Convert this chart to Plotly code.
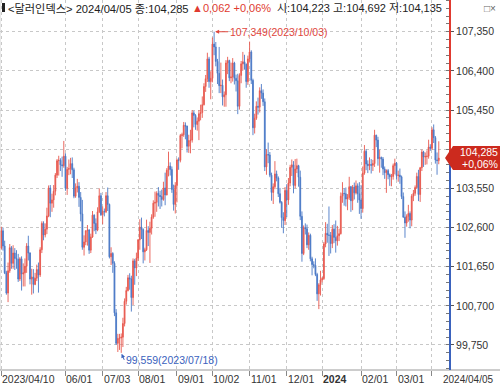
import pandas as pd
import plotly.graph_objects as go

# ---------------- data ----------------
dates = [d.strftime("%Y-%m-%d") for d in pd.bdate_range("2023-04-10", "2024-04-05")]

open_ = [
    102.10, 102.52, 102.15, 101.50, 101.01, 101.55, 102.11, 101.73, 101.98, 101.85, 101.83, 101.35, 101.84, 101.47, 101.50,
    101.66, 102.15, 101.98, 101.35, 101.40, 101.22, 101.37, 101.58, 101.45, 102.06, 102.70, 102.42, 102.56, 102.88, 103.56, 103.19, 103.27, 103.48, 103.87, 104.22, 104.23, 104.12, 104.10,
    104.33, 103.55, 104.01, 104.03, 104.15, 104.00, 103.36, 103.56, 103.60, 103.33, 102.93, 102.12, 102.25, 102.52, 102.54, 102.05, 102.37, 102.90, 102.70, 102.54, 102.98, 103.37,
    102.91, 102.99, 102.98, 103.37, 103.16, 101.89, 101.97, 101.73, 100.53, 99.79, 99.91, 99.92, 99.94, 100.27, 100.81, 101.07, 101.38, 101.35, 100.90, 101.79, 101.62,
    101.86, 102.30, 102.61, 102.55, 102.01, 102.06, 102.53, 102.48, 102.58, 102.85, 103.19, 103.21, 103.43, 103.38, 103.35, 103.28, 103.56, 103.39, 103.99, 104.09, 104.01, 103.52, 103.16,
    103.62, 104.24, 104.23, 104.83, 104.85, 105.08, 105.06, 104.57, 104.71, 104.72, 105.38, 105.32, 105.10, 105.18, 105.36, 105.39, 105.58, 106.02, 106.21, 106.69, 106.14,
    106.22, 107.05, 106.98, 106.63, 106.34, 106.04, 106.05, 105.77, 105.82, 106.59, 106.65, 106.23, 106.25, 106.59, 106.22, 106.16, 105.54, 106.29, 106.57, 106.62, 106.56, 106.14,
    106.69, 106.86, 106.17, 105.02, 105.25, 105.54, 105.52, 105.92, 105.86, 105.65, 104.07, 104.37, 104.36, 103.87, 103.45, 103.59, 103.90, 103.80, 103.42, 103.21, 102.84, 102.77,
    103.50, 103.27, 103.68, 104.06, 104.12, 103.62, 104.02, 104.10, 103.82, 102.87, 101.97, 102.60, 102.57, 102.18, 102.41, 101.84, 101.70, 101.68, 101.46, 100.99, 101.21,
    101.33, 101.36, 102.20, 102.46, 102.42, 102.41, 102.21, 102.56, 102.36, 102.28, 102.40, 102.45, 103.36, 103.43, 103.42, 103.29, 103.33, 103.59, 103.25, 103.58, 103.44, 103.61, 103.42,
    103.27, 103.06, 103.92, 104.45, 104.14, 104.10, 104.13, 104.11, 104.15, 104.84, 104.72, 104.27, 104.30, 104.26, 104.02, 103.93, 103.98, 103.88, 103.83, 103.84, 104.10,
    104.16, 103.86, 103.87, 103.83, 103.35, 102.85, 102.71, 102.87, 102.94, 102.78, 103.36, 103.43, 103.57, 103.84, 103.40, 104.05, 104.43, 104.31, 104.32, 104.33, 104.55,
    104.52, 104.97, 104.78, 104.24, 104.223,
]

high = [
    102.62, 102.60, 102.28, 101.55, 101.75, 102.20, 102.15, 102.17, 102.10, 102.05, 101.96, 101.88, 101.90, 101.73, 101.85,
    102.22, 102.40, 102.00, 101.60, 101.59, 101.50, 101.70, 101.75, 102.12, 102.75, 102.75, 102.70, 103.08, 103.62, 103.63, 103.42, 103.63, 103.92, 104.26, 104.34, 104.28, 104.32, 104.70,
    104.40, 104.07, 104.25, 104.29, 104.30, 104.05, 103.67, 103.78, 103.70, 103.46, 103.27, 102.41, 102.53, 102.66, 102.56, 102.45, 103.00, 102.92, 102.82, 103.09, 103.55, 103.44,
    103.11, 103.06, 103.46, 103.57, 103.18, 102.12, 102.00, 101.78, 100.62, 100.02, 100.02, 100.03, 100.41, 100.88, 101.16, 101.45, 101.49, 101.43, 101.85, 101.84, 101.99,
    102.32, 102.80, 102.84, 102.58, 102.11, 102.79, 102.63, 102.74, 102.92, 103.26, 103.47, 103.48, 103.58, 103.49, 103.52, 103.71, 103.93, 104.04, 104.44, 104.18, 104.08, 103.64, 103.70,
    104.27, 104.30, 104.87, 104.90, 105.16, 105.15, 105.07, 104.85, 104.97, 105.45, 105.43, 105.35, 105.27, 105.45, 105.58, 105.78, 106.10, 106.30, 106.84, 106.74, 106.39,
    107.21, 107.349, 107.10, 106.69, 106.98, 106.60, 106.19, 105.90, 106.66, 106.74, 106.67, 106.60, 106.71, 106.62, 106.31, 106.33, 106.34, 106.64, 106.86, 106.79, 106.58, 106.77,
    107.11, 106.90, 106.21, 105.36, 105.66, 105.75, 106.00, 106.08, 105.95, 105.73, 104.50, 104.66, 104.43, 103.93, 103.67, 104.21, 103.98, 103.84, 103.56, 103.24, 102.97, 103.58,
    103.65, 103.80, 104.12, 104.25, 104.21, 104.26, 104.27, 104.12, 103.98, 102.99, 102.65, 102.70, 102.67, 102.48, 102.45, 101.89, 101.78, 101.85, 101.50, 101.25, 101.55,
    101.40, 102.25, 102.73, 102.69, 103.11, 102.49, 102.66, 102.68, 102.77, 102.64, 102.57, 103.45, 103.70, 103.55, 103.57, 103.41, 103.83, 103.61, 103.63, 103.69, 103.74, 103.67, 103.70,
    103.63, 104.08, 104.60, 104.50, 104.23, 104.30, 104.26, 104.24, 104.97, 104.85, 104.80, 104.49, 104.32, 104.31, 104.08, 104.01, 104.02, 103.91, 103.90, 104.15, 104.27,
    104.19, 103.98, 104.03, 103.86, 103.45, 102.99, 102.92, 103.15, 102.99, 103.41, 103.51, 103.62, 103.93, 104.00, 104.07, 104.49, 104.46, 104.42, 104.47, 104.73, 104.62,
    105.03, 105.10, 104.82, 104.42, 104.692,
]

low = [
    102.06, 102.04, 101.47, 100.97, 100.79, 101.50, 101.60, 101.60, 101.57, 101.60, 101.28, 101.30, 101.07, 101.17, 101.17,
    101.50, 101.80, 101.22, 100.97, 101.00, 101.20, 101.30, 101.02, 101.40, 101.98, 102.29, 102.36, 102.44, 102.85, 102.85, 102.98, 103.08, 103.38, 103.80, 103.86, 103.97, 103.83, 104.05,
    103.49, 103.39, 103.87, 103.89, 103.80, 103.31, 103.32, 103.45, 103.10, 102.75, 102.06, 101.92, 102.17, 102.16, 101.96, 101.98, 102.35, 102.51, 102.44, 102.51, 102.95, 102.88,
    102.68, 102.87, 102.95, 103.00, 101.85, 101.69, 101.50, 100.45, 99.75, 99.58, 99.63, 99.559, 99.70, 100.20, 100.73, 101.05, 101.09, 100.56, 100.72, 101.21, 101.42,
    101.79, 102.06, 102.32, 101.73, 101.80, 102.03, 102.15, 101.74, 102.43, 102.81, 102.86, 102.98, 103.11, 103.05, 103.11, 103.25, 103.14, 103.38, 103.84, 103.86, 103.44, 103.01, 102.94,
    103.21, 104.00, 104.18, 104.52, 104.80, 104.74, 104.42, 104.41, 104.40, 104.66, 105.03, 104.97, 104.95, 104.72, 105.20, 105.26, 105.56, 105.89, 106.13, 105.99, 105.71,
    106.12, 106.78, 106.51, 106.08, 105.86, 105.86, 105.56, 105.53, 105.53, 106.32, 106.15, 106.10, 106.14, 106.07, 105.90, 105.35, 105.46, 106.10, 106.41, 106.43, 105.99, 106.06,
    106.62, 106.08, 104.84, 104.88, 105.21, 105.34, 105.39, 105.72, 105.55, 103.97, 103.88, 104.16, 103.82, 103.25, 103.17, 103.53, 103.72, 103.34, 103.18, 102.59, 102.46, 102.66,
    102.85, 103.15, 103.60, 103.85, 103.43, 103.55, 103.92, 103.59, 102.78, 101.77, 101.93, 102.43, 102.10, 102.06, 101.78, 101.44, 101.61, 101.42, 100.82, 100.62, 100.95,
    101.27, 101.33, 102.12, 102.23, 101.91, 101.97, 102.10, 102.22, 101.99, 102.16, 102.27, 102.43, 103.20, 103.13, 103.11, 103.02, 103.27, 102.98, 103.02, 103.28, 103.40, 103.20, 102.93,
    102.81, 102.96, 103.88, 103.99, 103.92, 103.99, 103.91, 103.97, 104.07, 104.55, 104.10, 103.93, 104.05, 103.87, 103.78, 103.44, 103.77, 103.61, 103.60, 103.76, 103.89,
    103.76, 103.71, 103.66, 103.29, 102.84, 102.35, 102.62, 102.74, 102.58, 102.63, 103.24, 103.37, 103.54, 103.24, 103.22, 103.97, 104.07, 104.12, 104.13, 104.27, 104.46,
    104.48, 104.65, 104.15, 103.88, 104.135,
]

close = [
    102.52, 102.15, 101.50, 101.01, 101.55, 102.11, 101.73, 101.98, 101.85, 101.83, 101.35, 101.84, 101.47, 101.50, 101.66,
    102.15, 101.98, 101.35, 101.40, 101.22, 101.37, 101.58, 101.45, 102.06, 102.70, 102.42, 102.56, 102.88, 103.56, 103.19, 103.27, 103.48, 103.87, 104.22, 104.23, 104.12, 104.10, 104.33,
    103.55, 104.01, 104.03, 104.15, 104.00, 103.36, 103.56, 103.60, 103.33, 102.93, 102.12, 102.25, 102.52, 102.54, 102.05, 102.37, 102.90, 102.70, 102.54, 102.98, 103.37, 102.91,
    102.99, 102.98, 103.37, 103.16, 101.89, 101.97, 101.73, 100.53, 99.79, 99.91, 99.92, 99.94, 100.27, 100.81, 101.07, 101.38, 101.35, 100.90, 101.79, 101.62, 101.86,
    102.30, 102.61, 102.55, 102.01, 102.06, 102.53, 102.48, 102.58, 102.85, 103.19, 103.21, 103.43, 103.38, 103.35, 103.28, 103.56, 103.39, 103.99, 104.09, 104.01, 103.52, 103.16, 103.62,
    104.24, 104.23, 104.83, 104.85, 105.08, 105.06, 104.57, 104.71, 104.72, 105.38, 105.32, 105.10, 105.18, 105.36, 105.39, 105.58, 106.02, 106.21, 106.69, 106.14, 106.22,
    107.05, 106.98, 106.63, 106.34, 106.04, 106.05, 105.77, 105.82, 106.59, 106.65, 106.23, 106.25, 106.59, 106.22, 106.16, 105.54, 106.29, 106.57, 106.62, 106.56, 106.14, 106.69,
    106.86, 106.17, 105.02, 105.25, 105.54, 105.52, 105.92, 105.86, 105.65, 104.07, 104.37, 104.36, 103.87, 103.45, 103.59, 103.90, 103.80, 103.42, 103.21, 102.84, 102.77, 103.50,
    103.27, 103.68, 104.06, 104.12, 103.62, 104.02, 104.10, 103.82, 102.87, 101.97, 102.60, 102.57, 102.18, 102.41, 101.84, 101.70, 101.68, 101.46, 100.99, 101.21, 101.33,
    101.36, 102.20, 102.46, 102.42, 102.41, 102.21, 102.56, 102.36, 102.28, 102.40, 102.45, 103.36, 103.43, 103.42, 103.29, 103.33, 103.59, 103.25, 103.58, 103.44, 103.61, 103.42, 103.27,
    103.06, 103.92, 104.45, 104.14, 104.10, 104.13, 104.11, 104.15, 104.84, 104.72, 104.27, 104.30, 104.26, 104.02, 103.93, 103.98, 103.88, 103.83, 103.84, 104.10, 104.16,
    103.86, 103.87, 103.83, 103.35, 102.85, 102.71, 102.87, 102.94, 102.78, 103.36, 103.43, 103.57, 103.84, 103.40, 104.05, 104.43, 104.31, 104.32, 104.33, 104.55, 104.52,
    104.97, 104.78, 104.24, 104.223, 104.285,
]

ytick_vals = [99.75, 100.70, 101.65, 102.60, 103.55, 104.50, 105.45, 106.40, 107.35]
ytick_text = ["99,750", "100,700", "101,650", "102,600", "103,550", "", "105,450", "106,400", "107,350"]

xtick_dates = ["2023-04-10", "2023-06-01", "2023-07-03", "2023-08-01", "2023-09-01", "2023-10-02",
               "2023-11-01", "2023-12-01", "2024-01-01", "2024-02-01", "2024-03-01", "2024-04-01"]
xtick_text = ["2023/04/10", "06/01", "07/03", "08/01", "09/01", "10/02",
              "11/01", "12/01", "<b>2024</b>", "02/01", "03/01", ""]

title_name = "<달러인덱스>"

assert len(dates) == len(open_) == len(high) == len(low) == len(close)

# ---------------- style ----------------
FONT = "Liberation Sans, Arial, Noto Sans CJK KR, sans-serif"
RED = "#e8584e"
BLUE = "#4a78c6"
TXT = "#333333"
GRID = "#c8c8c8"


def fmt(v, nd=3):
    return f"{v:.{nd}f}".replace(".", ",")


fig = go.Figure(go.Candlestick(
    x=dates, open=open_, high=high, low=low, close=close,
    increasing=dict(line=dict(color=RED, width=0.9), fillcolor=RED),
    decreasing=dict(line=dict(color=BLUE, width=0.9), fillcolor=BLUE),
    hoverinfo="skip",
))

PLOT_W = 449
fig.update_layout(
    width=500, height=389,
    margin=dict(l=0, r=51, t=0, b=19, pad=0, autoexpand=False),
    paper_bgcolor="white", plot_bgcolor="white",
    showlegend=False,
    font=dict(family=FONT, size=11, color=TXT),
)

fig.update_xaxes(
    type="category", range=[-0.77, 265.07], automargin=False,
    rangeslider=dict(visible=False),
    tickmode="array", tickvals=xtick_dates, showticklabels=False,
    ticks="outside", ticklen=5, tickcolor="#888888",
    showgrid=True, gridcolor=GRID, griddash="dot", gridwidth=1,
    showline=False, zeroline=False,
)
fig.update_yaxes(
    side="right", range=[99.143, 108.119], automargin=False,
    tickmode="array", tickvals=ytick_vals, ticktext=ytick_text,
    ticks="outside", ticklen=4, tickcolor="#555555",
    tickfont=dict(size=10.5, color=TXT, family=FONT),
    minor=dict(ticks="inside", ticklen=3, tickcolor="#777777", tick0=99.75, dtick=0.19, showgrid=False),
    showgrid=True, gridcolor=GRID, griddash="dot", gridwidth=1,
    showline=False, zeroline=False,
)

last = close[-1]
prev = close[-2]
chg = last - prev
pct = chg / prev * 100
axis_x = 450 / PLOT_W

shapes = [
    # left border
    dict(type="line", xref="paper", yref="paper", x0=0, x1=0, y0=0, y1=1,
         line=dict(color="#d4d4d4", width=1)),
    # bottom axis line across
    dict(type="line", xref="paper", yref="paper", x0=0, x1=500 / PLOT_W, y0=0, y1=0,
         line=dict(color="#9a9a9a", width=1)),
    # right axis line, red above last price, blue below
    dict(type="line", xref="paper", yref="y", x0=axis_x, x1=axis_x, y0=last, y1=108.2,
         line=dict(color="#e03a30", width=2)),
    dict(type="line", xref="paper", yref="y", x0=axis_x, x1=axis_x, y0=99.0, y1=last,
         line=dict(color="#3a62bd", width=2)),
    # last-price tag
    dict(type="path", xref="paper", yref="y", xsizemode="pixel", ysizemode="pixel",
         xanchor=1, yanchor=last,
         path="M -4,0 L 4,12 L 52,12 L 52,-12 L 4,-12 Z",
         fillcolor="#cc2a1e", line=dict(width=0)),
    # small black marker at header start
    dict(type="rect", xref="paper", yref="paper", xsizemode="pixel", ysizemode="pixel",
         xanchor=0, yanchor=1, x0=2, x1=5, y0=-3, y1=-12,
         fillcolor="#222222", line=dict(width=0)),
]
fig.update_layout(shapes=shapes)

ann = []
# header
ann.append(dict(xref="paper", yref="paper", x=0, y=1, xanchor="left", yanchor="middle",
                xshift=6, yshift=-8, showarrow=False,
                text=f"{title_name} {dates[-1].replace('-', '/')} 종:{fmt(last)}",
                font=dict(size=11.2, color="#222222", family=FONT)))
ann.append(dict(xref="paper", yref="paper", x=0, y=1, xanchor="left", yanchor="middle",
                xshift=190, yshift=-8, showarrow=False,
                text=f"▲{fmt(chg)} +{fmt(pct, 2)}%",
                font=dict(size=11, color="#e03a30", family=FONT)))
ann.append(dict(xref="paper", yref="paper", x=0, y=1, xanchor="left", yanchor="middle",
                xshift=275, yshift=-8, showarrow=False,
                text=f"시:{fmt(open_[-1])} 고:{fmt(high[-1])} 저:{fmt(low[-1])}",
                font=dict(size=11, color="#222222", family=FONT)))
ann.append(dict(xref="paper", yref="paper", x=1, y=1, xanchor="right", yanchor="middle",
                xshift=49, yshift=-8, showarrow=False, text="□×",
                font=dict(size=10, color="#666666", family=FONT)))

# x tick labels (left-aligned at tick)
for d, t in zip(xtick_dates, xtick_text):
    if t:
        ann.append(dict(xref="x", yref="paper", x=d, y=0, xanchor="left", yanchor="middle",
                        xshift=-1, yshift=-9, showarrow=False, text=t,
                        font=dict(size=10.5, color=TXT, family=FONT)))
ann.append(dict(xref="paper", yref="paper", x=1, y=0, xanchor="left", yanchor="middle",
                xshift=-8, yshift=-9, showarrow=False, text=dates[-1].replace("-", "/"),
                font=dict(size=10, color=TXT, family=FONT)))

# max / min markers
imax = max(range(len(high)), key=lambda i: high[i])
imin = min(range(len(low)), key=lambda i: low[i])
ann.append(dict(xref="x", yref="y", x=dates[imax], y=high[imax], ax=14, ay=0,
                xanchor="left", yanchor="middle", showarrow=True, arrowhead=2,
                arrowsize=0.8, arrowwidth=1, arrowcolor="#e0463c", standoff=1,
                text=f"{fmt(high[imax])}({dates[imax].replace('-', '/')})",
                font=dict(size=10.5, color="#e0463c", family=FONT)))
ann.append(dict(xref="x", yref="y", x=dates[imin], y=low[imin], ax=3, ay=7,
                xanchor="left", yanchor="middle", showarrow=True, arrowhead=2,
                arrowsize=0.8, arrowwidth=1, arrowcolor="#3a62bd", standoff=1,
                text=f"{fmt(low[imin])}({dates[imin].replace('-', '/')})",
                font=dict(size=10.5, color="#3a62bd", family=FONT)))

# last price tag text
ann.append(dict(xref="paper", yref="y", x=1, y=last, xanchor="right", yanchor="middle",
                xshift=51, yshift=6, showarrow=False, text=fmt(last),
                font=dict(size=10.5, color="white", family=FONT)))
ann.append(dict(xref="paper", yref="y", x=1, y=last, xanchor="right", yanchor="middle",
                xshift=51, yshift=-6, showarrow=False, text=f"+{fmt(pct, 2)}%",
                font=dict(size=10.5, color="white", family=FONT)))

fig.update_layout(annotations=ann)
fig.write_html("out.html", config={"displayModeBar": False, "staticPlot": True},
               post_script="document.body.style.margin='0';document.body.style.padding='0';")
